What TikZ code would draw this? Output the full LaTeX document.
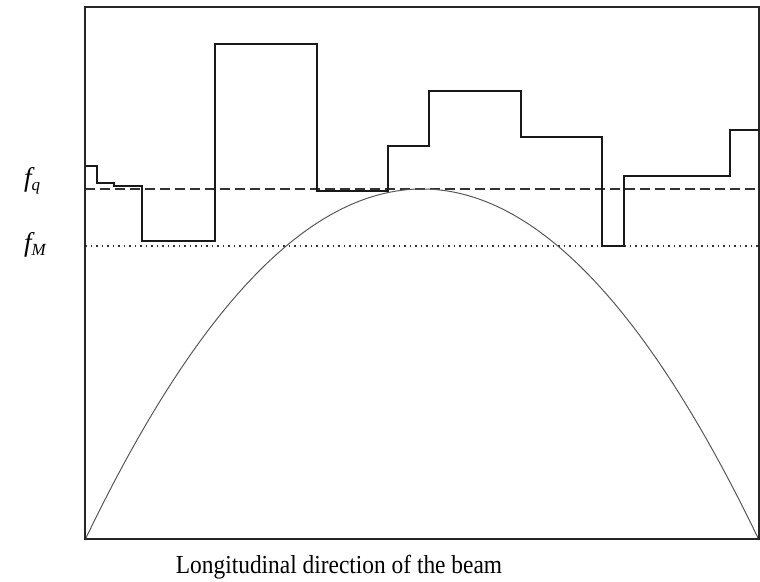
\documentclass[tikz,border=0pt]{standalone}
\usepackage{fontspec}
\setmainfont{Liberation Serif}
\begin{document}
\begin{tikzpicture}[x=1pt,y=-1pt,
  frame/.style={line width=1.2pt,black!85},
  stepline/.style={line width=1.3pt,black!90,line join=miter},
  fqline/.style={line width=1.3pt,black!80,dash pattern=on 10pt off 5pt},
  fmline/.style={line width=1.6pt,black!80,dash pattern=on 1.5pt off 4pt},
  curve/.style={line width=1pt,black!65},
  lab/.style={font=\fontsize{27}{29}\selectfont\itshape,inner sep=0pt}]
\useasboundingbox (0,0) rectangle (760,581);
\fill[white] (0,0) rectangle (760,581);
\draw[fqline] (85,189) -- (759,189);
\draw[fmline] (85,246) -- (759,246);
\draw[curve] (85,540) .. controls (309.67,72) and (534.33,72) .. (759,540);
\draw[stepline] (85,166) -- (97,166) -- (97,183) -- (114,183) -- (114,186) -- (142,186)
  -- (142,241) -- (215,241) -- (215,44) -- (317,44) -- (317,191) -- (388,191)
  -- (388,146) -- (429,146) -- (429,91) -- (521,91) -- (521,137) -- (602,137)
  -- (602,246) -- (624,246) -- (624,176) -- (730,176) -- (730,130) -- (759,130);
\draw[frame] (85,7) rectangle (759,539);
\node[lab,anchor=base west] (fq) at (24,186) {f\raisebox{-4pt}{\fontsize{17}{19}\selectfont q}};
\node[lab,anchor=base west] (fm) at (24,251) {f\raisebox{-4pt}{\fontsize{17}{19}\selectfont M}};
\node[inner sep=0pt,anchor=base] (cap) at (339,573) {\scalebox{0.9}[1]{\fontsize{26}{28}\selectfont Longitudinal direction of the beam}};
\end{tikzpicture}
\end{document}
